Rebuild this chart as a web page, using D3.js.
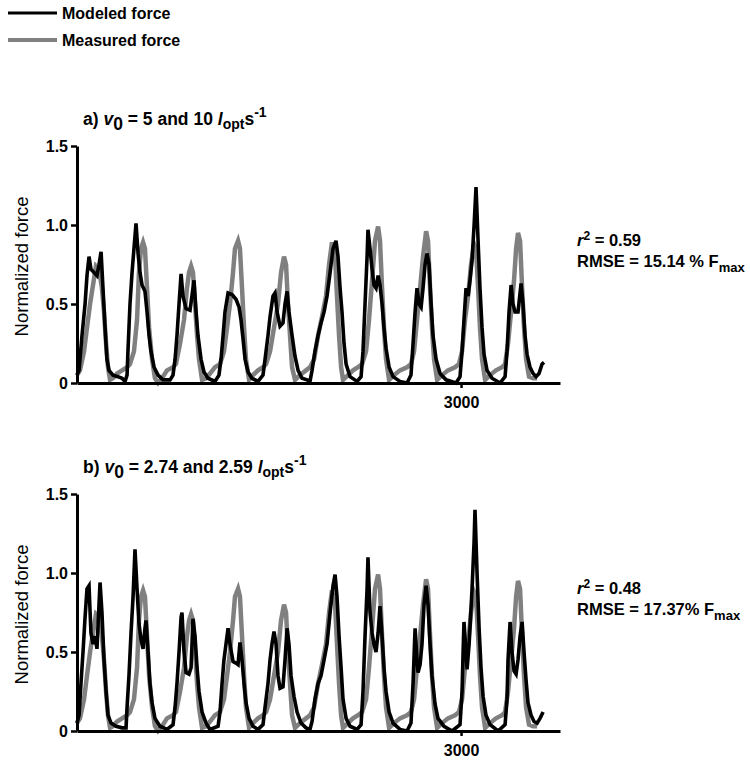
<!DOCTYPE html>
<html>
<head>
<meta charset="utf-8">
<script src="https://cdn.jsdelivr.net/npm/d3@7"></script>
<style>
  html, body { margin: 0; padding: 0; background: #fff; }
  svg { display: block; }
  text { font-family: "Liberation Sans", Arial, sans-serif; }
</style>
</head>
<body>
<svg id="chart" width="750" height="763"></svg>
<script>
// ---------- DATA ----------
// [time, normalized force]
const measured = [
  [0,0.05],[23,0.08],[55,0.2],[78,0.35],[102,0.5],[125,0.62],[148,0.74],[172,0.72],[195,0.6],[211,0.45],[227,0.25],[242,0.1],[258,0.02],[281,0.03],[313,0.06],[352,0.08],[391,0.1],
  [414,0.12],[445,0.2],[469,0.4],[484,0.7],[500,0.85],[516,0.89],[531,0.85],[547,0.6],[563,0.35],[586,0.15],[609,0.03],[633,0.0],[664,0.03],[703,0.08],[750,0.1],
  [773,0.12],[805,0.25],[836,0.4],[859,0.6],[875,0.7],[891,0.74],[906,0.7],[922,0.5],[938,0.3],[953,0.15],[977,0.02],[1008,0.03],[1039,0.06],[1078,0.1],
  [1117,0.12],[1148,0.2],[1172,0.35],[1195,0.5],[1219,0.7],[1234,0.85],[1258,0.9],[1273,0.85],[1289,0.6],[1305,0.35],[1320,0.15],[1344,0.02],[1375,0.05],[1414,0.08],[1453,0.1],
  [1477,0.12],[1508,0.2],[1539,0.35],[1570,0.5],[1594,0.7],[1617,0.8],[1633,0.75],[1648,0.5],[1664,0.3],[1680,0.1],[1703,0.02],[1742,0.05],[1789,0.08],[1820,0.1],
  [1852,0.15],[1883,0.3],[1914,0.42],[1945,0.55],[1969,0.75],[1992,0.89],[2016,0.8],[2031,0.55],[2047,0.3],[2063,0.1],[2078,0.02],[2117,0.05],[2156,0.08],[2195,0.1],
  [2227,0.12],[2258,0.2],[2281,0.4],[2305,0.65],[2328,0.9],[2352,0.99],[2367,0.9],[2383,0.6],[2398,0.35],[2414,0.15],[2438,0.02],[2477,0.05],[2523,0.08],[2578,0.1],
  [2609,0.12],[2633,0.2],[2656,0.4],[2680,0.6],[2703,0.8],[2727,0.96],[2742,0.9],[2758,0.6],[2773,0.35],[2789,0.15],[2813,0.02],[2852,0.05],[2898,0.08],[2953,0.1],
  [2984,0.12],[3008,0.2],[3031,0.4],[3055,0.55],[3078,0.75],[3102,0.88],[3117,0.85],[3133,0.6],[3148,0.35],[3164,0.15],[3188,0.02],[3227,0.05],[3273,0.08],[3320,0.1],
  [3344,0.12],[3367,0.25],[3391,0.45],[3414,0.65],[3430,0.85],[3445,0.95],[3461,0.9],[3477,0.6],[3492,0.35],[3508,0.15],[3531,0.04],[3563,0.03],[3594,0.03]
];

const modeledA = [
  [0,0.05],[16,0.08],[39,0.3],[63,0.5],[78,0.68],[94,0.8],[109,0.72],[133,0.7],[156,0.68],[172,0.75],[188,0.83],[203,0.6],[219,0.35],[234,0.15],[250,0.08],[281,0.05],[320,0.04],[352,0.03],[375,0.01],[391,0.05],
  [398,0.2],[414,0.5],[430,0.7],[445,0.85],[461,1.01],[477,0.82],[492,0.7],[508,0.62],[531,0.58],[547,0.45],[563,0.3],[578,0.2],[602,0.1],[633,0.05],[672,0.02],[727,0.02],[750,0.05],
  [766,0.15],[781,0.3],[797,0.5],[813,0.69],[828,0.55],[852,0.47],[883,0.46],[914,0.65],[930,0.45],[945,0.3],[969,0.15],[992,0.07],[1023,0.03],[1078,0.01],[1109,0.05],
  [1125,0.15],[1141,0.3],[1156,0.45],[1180,0.57],[1211,0.56],[1242,0.53],[1266,0.48],[1281,0.4],[1297,0.28],[1313,0.15],[1336,0.07],[1367,0.03],[1414,0.01],[1453,0.05],
  [1469,0.15],[1492,0.3],[1508,0.42],[1531,0.55],[1547,0.57],[1563,0.45],[1586,0.36],[1609,0.38],[1625,0.5],[1641,0.58],[1656,0.45],[1680,0.3],[1703,0.17],[1727,0.08],[1758,0.03],[1797,0.02],[1820,0.01],
  [1836,0.08],[1859,0.2],[1883,0.3],[1906,0.38],[1930,0.45],[1953,0.55],[1977,0.7],[2000,0.85],[2023,0.9],[2039,0.8],[2055,0.6],[2070,0.45],[2086,0.25],[2102,0.12],[2133,0.04],[2188,0.01],[2219,0.04],
  [2234,0.2],[2250,0.5],[2266,0.8],[2273,0.97],[2289,0.85],[2305,0.72],[2320,0.62],[2336,0.6],[2352,0.68],[2367,0.62],[2383,0.5],[2398,0.35],[2414,0.22],[2438,0.1],[2469,0.04],[2523,0.01],[2578,0.0],[2609,0.05],
  [2625,0.25],[2641,0.45],[2656,0.6],[2672,0.5],[2688,0.48],[2703,0.6],[2719,0.75],[2734,0.82],[2750,0.75],[2766,0.5],[2781,0.3],[2805,0.15],[2836,0.06],[2883,0.02],[2961,0.0],[2992,0.04],
  [3008,0.2],[3023,0.4],[3039,0.6],[3055,0.55],[3070,0.65],[3086,0.78],[3102,1.0],[3117,1.24],[3133,0.9],[3148,0.6],[3164,0.35],[3180,0.18],[3203,0.08],[3242,0.03],[3305,0.0],[3344,0.04],
  [3359,0.2],[3375,0.45],[3391,0.62],[3406,0.5],[3422,0.45],[3445,0.45],[3469,0.63],[3484,0.5],[3500,0.3],[3516,0.18],[3539,0.1],[3563,0.06],[3586,0.04],[3609,0.06],[3633,0.12],[3648,0.13]
];

const modeledB = [
  [0,0.05],[16,0.1],[31,0.3],[47,0.5],[63,0.72],[78,0.9],[94,0.92],[109,0.62],[125,0.55],[141,0.6],[156,0.52],[172,0.8],[180,0.94],[195,0.75],[211,0.45],[227,0.25],[242,0.1],[266,0.05],[305,0.03],[352,0.02],[383,0.02],
  [391,0.15],[406,0.35],[422,0.62],[438,0.85],[453,1.15],[469,0.9],[484,0.68],[500,0.58],[516,0.52],[531,0.65],[539,0.7],[555,0.5],[570,0.3],[586,0.18],[609,0.08],[648,0.03],[703,0.01],[750,0.04],
  [766,0.15],[781,0.3],[797,0.5],[813,0.72],[820,0.75],[836,0.5],[852,0.37],[875,0.36],[891,0.4],[906,0.71],[922,0.6],[938,0.4],[953,0.25],[977,0.12],[1008,0.05],[1039,0.01],[1102,0.03],
  [1117,0.12],[1133,0.3],[1148,0.45],[1164,0.55],[1180,0.65],[1195,0.55],[1219,0.44],[1242,0.43],[1258,0.42],[1273,0.56],[1289,0.45],[1305,0.3],[1320,0.18],[1344,0.08],[1375,0.03],[1414,0.01],[1453,0.04],
  [1469,0.15],[1492,0.3],[1508,0.45],[1523,0.55],[1539,0.63],[1555,0.55],[1570,0.35],[1586,0.27],[1609,0.28],[1625,0.45],[1641,0.65],[1656,0.55],[1672,0.35],[1695,0.22],[1719,0.12],[1750,0.05],[1789,0.02],[1820,0.01],
  [1836,0.06],[1859,0.2],[1883,0.3],[1906,0.35],[1930,0.45],[1953,0.55],[1977,0.75],[2000,0.92],[2016,0.99],[2031,0.85],[2047,0.6],[2063,0.4],[2078,0.2],[2102,0.08],[2133,0.03],[2188,0.01],[2219,0.04],
  [2234,0.25],[2250,0.6],[2266,0.9],[2273,1.1],[2289,0.75],[2305,0.62],[2320,0.55],[2336,0.5],[2352,0.62],[2367,0.79],[2383,0.6],[2398,0.4],[2414,0.25],[2438,0.12],[2469,0.05],[2523,0.01],[2578,0.0],[2609,0.05],
  [2625,0.3],[2641,0.65],[2656,0.45],[2664,0.37],[2680,0.42],[2695,0.55],[2711,0.8],[2727,0.92],[2742,0.8],[2758,0.55],[2773,0.35],[2797,0.17],[2820,0.08],[2867,0.03],[2930,0.0],[2992,0.04],
  [3008,0.25],[3016,0.5],[3023,0.69],[3039,0.5],[3047,0.39],[3063,0.55],[3086,0.9],[3102,1.2],[3109,1.4],[3125,1.0],[3141,0.65],[3156,0.4],[3172,0.22],[3195,0.1],[3227,0.04],[3289,0.0],[3344,0.04],
  [3359,0.2],[3367,0.45],[3383,0.69],[3398,0.5],[3414,0.38],[3430,0.36],[3445,0.45],[3461,0.6],[3477,0.69],[3492,0.5],[3508,0.32],[3523,0.18],[3547,0.1],[3570,0.06],[3594,0.05],[3617,0.08],[3641,0.12]
];

const yTicks = [0, 0.5, 1.0, 1.5];
const xTicks = [3000];
const xDomain = [0, 3773];
const yDomain = [0, 1.5];
const legendLabels = ["Modeled force", "Measured force"];
const panelFits = [
  { letter: "a)", v0: "5 and 10", r2: "0.59", rmse: "15.14 % F" },
  { letter: "b)", v0: "2.74 and 2.59", r2: "0.48", rmse: "17.37% F" }
];

// ---------- DRAW ----------
const svg = d3.select("#chart");
const GREY = "#808080";

const x = d3.scaleLinear().domain(xDomain).range([77, 560]);

// legend
const legend = svg.append("g");
[["#000", 3.2], [GREY, 4]].forEach((s, i) => {
  const yy = 13 + i * 27;
  legend.append("line").attr("x1", 8).attr("x2", 57).attr("y1", yy).attr("y2", yy)
    .attr("stroke", s[0]).attr("stroke-width", s[1]);
  legend.append("text").attr("x", 62).attr("y", yy + 6)
    .attr("font-size", 16).attr("font-weight", "bold").text(legendLabels[i]);
});

function panel(yTop, yBottom, modeled, info) {
  const y = d3.scaleLinear().domain(yDomain).range([yBottom, yTop]);
  const g = svg.append("g");

  const line = d3.line().x(d => x(d[0])).y(d => y(d[1]));

  g.append("path").datum(measured).attr("d", line)
    .attr("fill", "none").attr("stroke", GREY).attr("stroke-width", 4.5)
    .attr("stroke-linejoin", "miter");
  g.append("path").datum(modeled).attr("d", line)
    .attr("fill", "none").attr("stroke", "#000").attr("stroke-width", 3.6)
    .attr("stroke-linejoin", "miter");

  // y axis
  const ya = g.append("g").attr("transform", "translate(77,0)")
    .call(d3.axisLeft(y).tickValues(yTicks).tickSize(6).tickSizeOuter(0).tickPadding(3)
      .tickFormat(d => d === 0 ? "0" : d3.format(".1f")(d)));
  ya.select(".domain").attr("stroke-width", 3);
  ya.selectAll(".tick line").attr("stroke-width", 2.5);
  ya.selectAll(".tick text").attr("font-size", 16).attr("font-weight", "bold")
    .attr("font-family", "Liberation Sans, Arial, sans-serif").attr("fill", "#000");

  // x axis
  const xa = g.append("g").attr("transform", `translate(0,${yBottom})`)
    .call(d3.axisBottom(x).tickValues(xTicks).tickSize(5).tickSizeOuter(0).tickPadding(9)
      .tickFormat(d3.format("d")));
  xa.select(".domain").attr("stroke-width", 3);
  xa.selectAll(".tick line").attr("stroke-width", 2.5);
  xa.selectAll(".tick text").attr("font-size", 16).attr("font-weight", "bold")
    .attr("font-family", "Liberation Sans, Arial, sans-serif").attr("fill", "#000");

  // y label
  g.append("text")
    .attr("transform", `translate(28,${(yTop + yBottom) / 2 + 2}) rotate(-90)`)
    .attr("text-anchor", "middle").attr("font-size", 18.5)
    .text("Normalized force");

  // title
  const t = g.append("text").attr("x", 83).attr("y", yTop - 21)
    .attr("font-size", 17.5).attr("font-weight", "bold");
  t.append("tspan").text(info.letter + " ");
  t.append("tspan").attr("font-style", "italic").text("v");
  t.append("tspan").attr("dy", 5).text("0");
  t.append("tspan").attr("dy", -5).text(" = " + info.v0 + " ");
  t.append("tspan").attr("font-style", "italic").text("l");
  t.append("tspan").attr("dy", 4).attr("font-size", 14).text("opt");
  t.append("tspan").attr("dy", -4).text("s");
  t.append("tspan").attr("dy", -8).attr("font-size", 14).text("-1");

  // fit annotations
  const r = g.append("text").attr("x", 577).attr("y", yTop + 100)
    .attr("font-size", 16.5).attr("font-weight", "bold");
  r.append("tspan").attr("font-style", "italic").text("r");
  r.append("tspan").attr("dy", -6).attr("font-size", 12).text("2");
  r.append("tspan").attr("dy", 6).text(" = " + info.r2);

  const m = g.append("text").attr("x", 577).attr("y", yTop + 121)
    .attr("font-size", 16.5).attr("font-weight", "bold");
  m.append("tspan").text("RMSE = " + info.rmse);
  m.append("tspan").attr("dy", 5).attr("font-size", 13).text("max");
}

panel(146, 383, modeledA, panelFits[0]);
panel(494, 731, modeledB, panelFits[1]);
</script>
</body>
</html>
